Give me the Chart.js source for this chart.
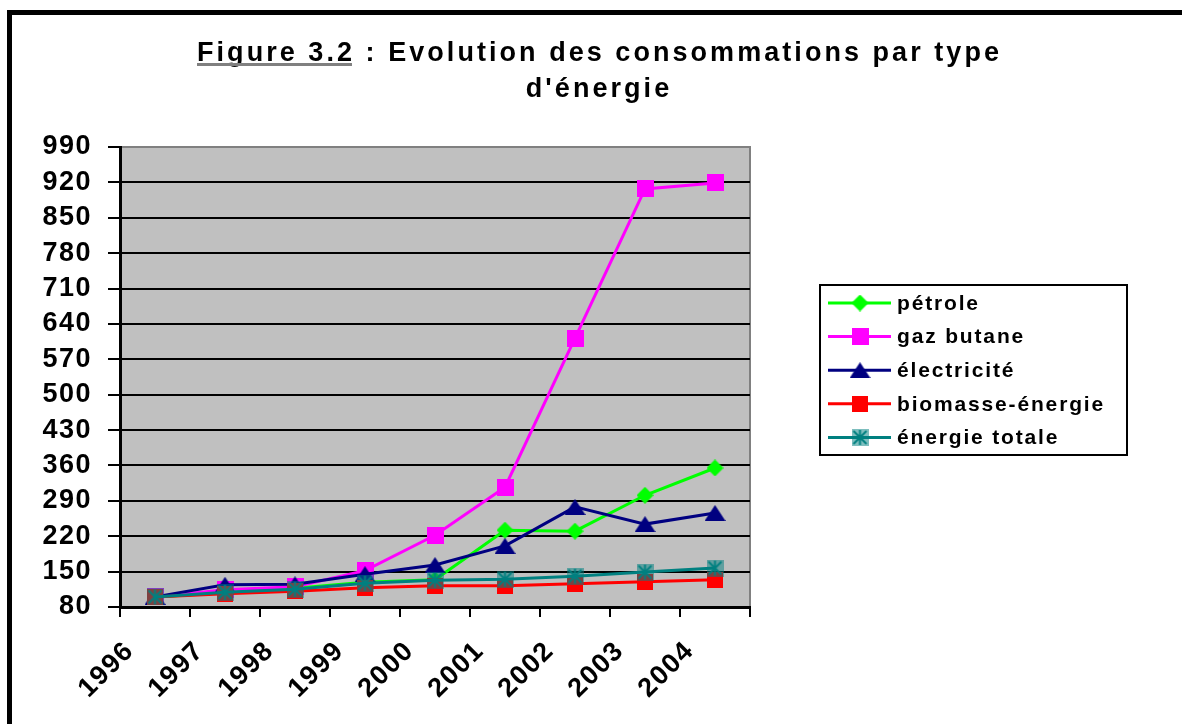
<!DOCTYPE html>
<html>
<head>
    <title>Figure 3.2</title>
    <script src="https://cdn.jsdelivr.net/npm/chart.js"></script>
    <style>
        body { margin: 0; background: #fff; overflow: hidden; }
        canvas { display: block; }
    </style>
</head>
<body>
    <canvas id="energyChart" width="1182" height="724"></canvas>

    <script>
        // values (index 1996 = 100)
        const years = ["1996", "1997", "1998", "1999", "2000", "2001", "2002", "2003", "2004"];
        const petrole = [100, 108, 117, 129, 134, 232, 230, 301, 355];
        const gazButane = [100, 114, 120, 152, 222, 317, 612, 907, 919];
        const electricite = [100, 124, 125, 145, 163, 201, 278, 244, 266];
        const biomasse = [100, 106, 111, 118, 122, 122, 126, 130, 134];
        const energieTotale = [100, 109, 115, 127, 133, 135, 141, 149, 157];
        const seriesNames = ["pétrole", "gaz butane", "électricité", "biomasse-énergie", "énergie totale"];
        const yMin = 80, yMax = 990, yStep = 70;

        const FONT = "'Liberation Sans', Arial, sans-serif";

        // marker images, drawn once
        function makeMarker(w, h, draw) {
            const c = document.createElement("canvas");
            c.width = w; c.height = h;
            draw(c.getContext("2d"), w, h);
            return c;
        }
        const diamond = makeMarker(17, 17, (g, w, h) => {
            g.fillStyle = "#00FF00";
            g.beginPath(); g.moveTo(w / 2, 0); g.lineTo(w, h / 2); g.lineTo(w / 2, h); g.lineTo(0, h / 2); g.closePath(); g.fill();
        });
        const pinkSquare = makeMarker(17, 17, (g, w, h) => { g.fillStyle = "#FF00FF"; g.fillRect(0, 0, w, h); });
        const triangle = makeMarker(21, 16, (g, w, h) => {
            g.fillStyle = "#000080";
            g.beginPath(); g.moveTo(w / 2, 0); g.lineTo(w, h); g.lineTo(0, h); g.closePath(); g.fill();
        });
        const redSquare = makeMarker(16, 16, (g, w, h) => { g.fillStyle = "#FF0000"; g.fillRect(0, 0, w, h); });
        const star = makeMarker(17, 17, (g, w, h) => {
            g.fillStyle = "rgba(0,128,128,0.5)";
            g.fillRect(0, 0, w, h);
            g.strokeStyle = "#008080";
            g.lineWidth = 2;
            g.beginPath();
            g.moveTo(w / 2, 1); g.lineTo(w / 2, h - 1);
            g.moveTo(2, 2); g.lineTo(w - 2, h - 2);
            g.moveTo(w - 2, 2); g.lineTo(2, h - 2);
            g.stroke();
        });

        const colors = ["#00FF00", "#FF00FF", "#000080", "#FF0000", "#008080"];
        const markers = [diamond, pinkSquare, triangle, redSquare, star];
        const values = [petrole, gazButane, electricite, biomasse, energieTotale];

        // frame, grey plot area, title and legend
        const decor = {
            id: "decor",
            beforeDraw(chart) {
                const ctx = chart.ctx, a = chart.chartArea;
                ctx.save();
                ctx.fillStyle = "#000";
                ctx.fillRect(7, 10, 5, 714);
                ctx.fillRect(7, 10, 1175, 5);
                ctx.fillStyle = "#C0C0C0";
                ctx.fillRect(a.left, a.top, a.right - a.left, a.bottom - a.top);
                ctx.strokeStyle = "#808080";
                ctx.lineWidth = 2;
                ctx.beginPath();
                ctx.moveTo(a.left, a.top); ctx.lineTo(a.right, a.top); ctx.lineTo(a.right, a.bottom);
                ctx.stroke();
                ctx.restore();
                ctx.letterSpacing = "1.5px";
            },
            afterDraw(chart) {
                const ctx = chart.ctx;
                ctx.save();
                // title
                ctx.fillStyle = "#000";
                ctx.font = "bold 27px " + FONT;
                ctx.textBaseline = "alphabetic";
                ctx.textAlign = "left";
                const partA = "Figure 3.2";
                const partB = " : Evolution des consommations par type";
                ctx.letterSpacing = "0px";
                const raw = ctx.measureText(partA + partB).width;
                const sp = (805 - raw) / (partA + partB).length;
                ctx.letterSpacing = sp + "px";
                const wA = ctx.measureText(partA).width;
                const x0 = 197;
                ctx.fillText(partA, x0, 61);
                ctx.fillText(partB, x0 + wA, 61);
                ctx.fillStyle = "#808080";
                ctx.fillRect(x0, 63, wA - sp, 3);
                ctx.fillStyle = "#000";
                ctx.textAlign = "center";
                ctx.fillText("d'énergie", 599, 97);

                // legend
                ctx.strokeStyle = "#000";
                ctx.lineWidth = 2;
                ctx.strokeRect(820, 285, 307, 170);
                ctx.font = "bold 21px " + FONT;
                ctx.letterSpacing = "0px";
                const lw = ctx.measureText("biomasse-énergie").width;
                ctx.letterSpacing = ((208 - lw) / 16) + "px";
                ctx.textAlign = "left";
                ctx.textBaseline = "middle";
                seriesNames.forEach((name, i) => {
                    const y = 303 + i * 33.6;
                    ctx.strokeStyle = colors[i];
                    ctx.lineWidth = 3;
                    ctx.beginPath(); ctx.moveTo(828, y); ctx.lineTo(891, y); ctx.stroke();
                    const m = markers[i];
                    ctx.drawImage(m, 860 - m.width / 2, y - m.height / 2);
                    ctx.fillStyle = "#000";
                    ctx.fillText(name, 897, y + 1);
                });
                ctx.restore();
            }
        };

        const datasets = seriesNames.map((name, i) => ({
            label: name,
            data: values[i],
            borderColor: colors[i],
            backgroundColor: colors[i],
            borderWidth: 3,
            pointStyle: markers[i],
            pointRadius: 9,
            tension: 0,
            order: 5 - i
        }));

        const tickFont = { family: FONT, size: 27, weight: "bold" };

        new Chart(document.getElementById("energyChart"), {
            type: "line",
            data: { labels: years, datasets: datasets },
            options: {
                responsive: false,
                animation: false,
                events: [],
                layout: { padding: { top: 147, right: 432, left: 0, bottom: 0 } },
                plugins: { legend: { display: false }, title: { display: false }, tooltip: { enabled: false } },
                scales: {
                    x: {
                        offset: true,
                        grid: { offset: true, drawOnChartArea: false, color: "#000", lineWidth: 2, tickLength: 10 },
                        border: { color: "#000", width: 3 },
                        ticks: { color: "#000", font: tickFont, minRotation: 45, maxRotation: 45, autoSkip: false, padding: 18, labelOffset: -25 },
                        afterFit: (s) => { s.height = 117; }
                    },
                    y: {
                        min: yMin,
                        max: yMax,
                        grid: {
                            color: (c) => (c.tick && c.tick.value === yMax ? "#808080" : "#000"),
                            lineWidth: 2,
                            tickLength: 12,
                            tickColor: "#000"
                        },
                        border: { color: "#000", width: 3 },
                        ticks: { stepSize: yStep, color: "#000", font: tickFont, padding: 16, autoSkip: false },
                        afterFit: (s) => { s.width = 120; }
                    }
                }
            },
            plugins: [decor]
        });
    </script>
</body>
</html>
